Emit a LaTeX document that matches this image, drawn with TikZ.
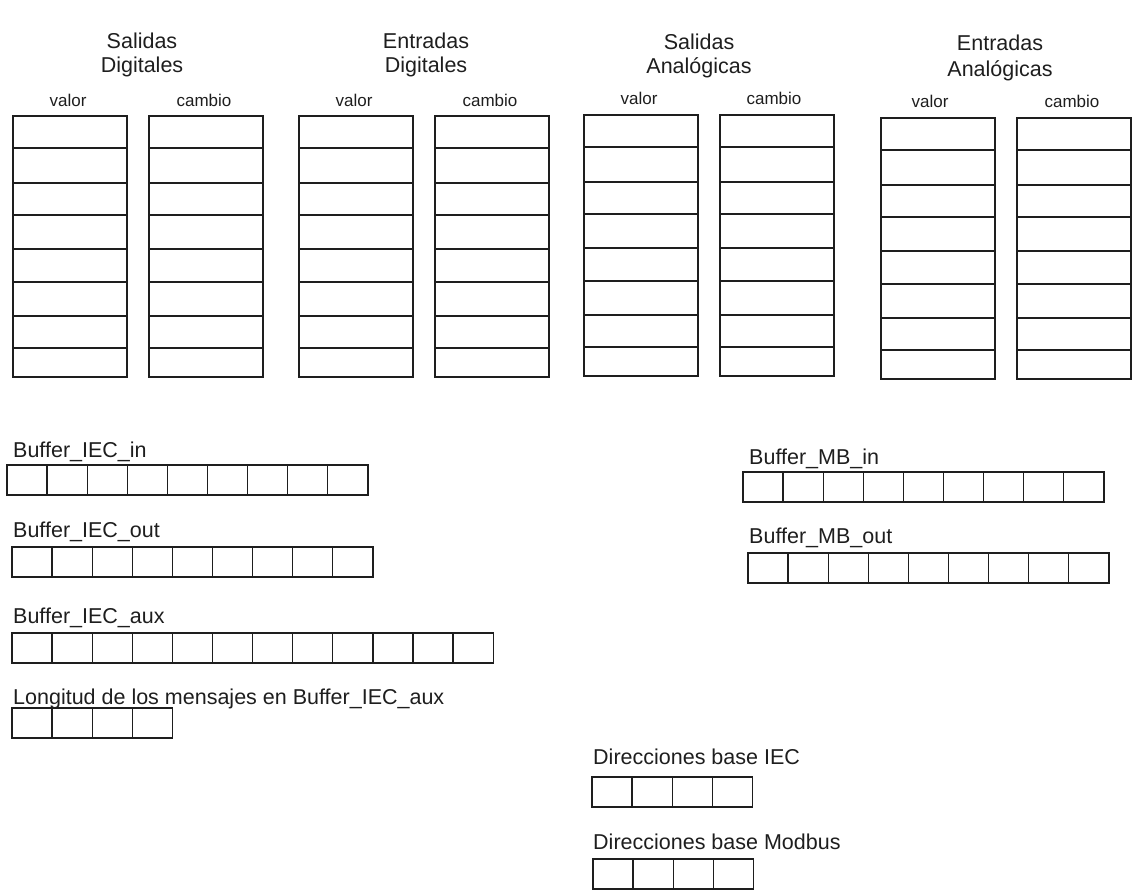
\documentclass[tikz,border=0pt]{standalone}
\usepackage{fontspec}
\setmainfont{Liberation Sans}
\usetikzlibrary{positioning}
\definecolor{trazo}{HTML}{1E1E1E}
\begin{document}
\begin{tikzpicture}[x=1pt,y=-1pt,
    celda/.style={draw=trazo,line width=1.3pt},
    titulo/.style={align=center,font=\fontsize{21.5}{24}\selectfont,inner sep=0pt,text=trazo},
    campo/.style={anchor=base,font=\fontsize{17}{20}\selectfont,inner sep=0pt,text=trazo},
    rotulo/.style={anchor=base west,font=\fontsize{21.5}{24}\selectfont,inner sep=0pt,text=trazo}]
\useasboundingbox (0,0) rectangle (1134,890);

% columnas valor / cambio de cada grupo de E/S
\foreach \grp/\xx/\yt in {sd/13/116,ed/299/116,sa/584/115,ea/881/118}{
  \foreach \dx in {0,136}{
    \draw[celda] (\xx+\dx,\yt) rectangle (\xx+\dx+114,\yt+261);
    \foreach \f in {32,67,99,133,166,200,232}
      \draw[celda] (\xx+\dx,\yt+\f) -- (\xx+\dx+114,\yt+\f);
  }
}

% titulos de los grupos
\node[titulo] (tsd) at (142,55) {Salidas\\Digitales};
\node[titulo] (ted) at (426,55) {Entradas\\Digitales};
\node[titulo] (tsa) at (699,56) {Salidas\\Analógicas};
\node[titulo] (tea) at (1000,58) {Entradas\\[2pt]Analógicas};

\foreach \grp/\xv/\xc/\yb in {sd/68/204/107,ed/354/490/107,sa/639/774/105,ea/930/1072/108}{
  \node[campo] (v\grp) at (\xv,\yb) {valor};
  \node[campo] (c\grp) at (\xc,\yb) {cambio};
}

% buffers
\foreach \buf/\xx/\yt/\n/\lx/\ly/\txt in {
    iecin/7/465/9/13/457/{Buffer\_IEC\_in},
    iecout/12/547/9/13/537/{Buffer\_IEC\_out},
    iecaux/12/633/12/13/623/{Buffer\_IEC\_aux},
    long/12/708/4/13/704/{Longitud de los mensajes en Buffer\_IEC\_aux},
    mbin/743/472/9/749/464/{Buffer\_MB\_in},
    mbout/748/553/9/749/543/{Buffer\_MB\_out},
    diriec/592/777/4/593/764/{Direcciones base IEC},
    dirmb/593/859/4/593/849/{Direcciones base Modbus}}{
  \node[rotulo] (l\buf) at (\lx,\ly) {\txt};
  \foreach \i in {1,...,\n}
    \draw[celda] (\xx+40.1*\i-40.1,\yt) rectangle ++(40.1,30);
}
\end{tikzpicture}
\end{document}
